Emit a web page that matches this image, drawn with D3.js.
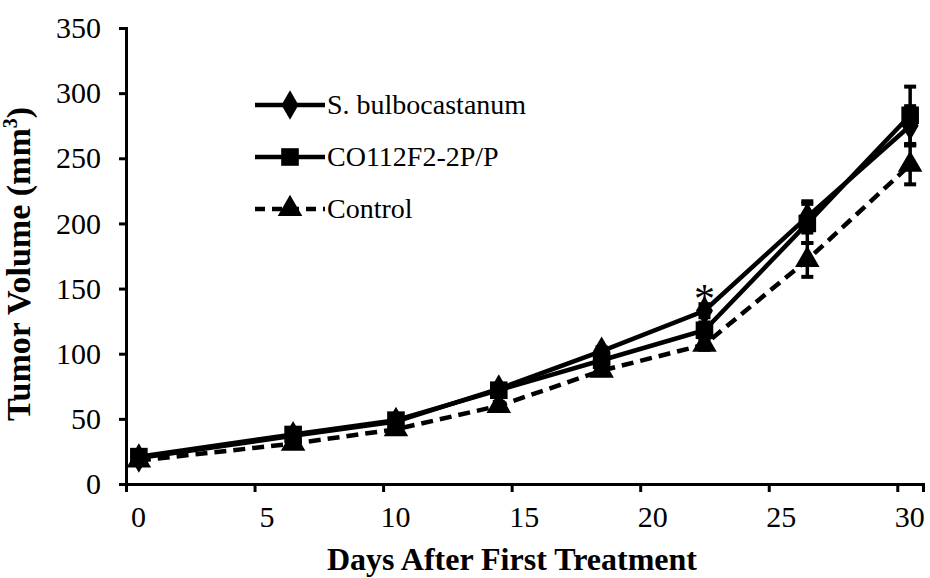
<!DOCTYPE html>
<html>
<head>
<meta charset="utf-8">
<script src="https://cdn.jsdelivr.net/npm/d3@7"></script>
<style>
  body { margin: 0; background: #fff; }
  svg text { font-family: "Liberation Serif", "Times New Roman", serif; fill: #000; }
</style>
</head>
<body>
<div id="chart"></div>
<script>
// data
const days = [0, 6, 10, 14, 18, 22, 26, 30];
const bulbocastanum = [20, 37, 48, 73, 102, 133, 205, 275];
const bulbocastanumErr = [2, 2, 2, 3, 3, 5, 12, 15];
const co112 = [21, 38, 49, 72, 95, 118, 200, 283];
const co112Err = [2, 3, 3, 3, 5, 6, 15, 22];
const control = [18, 31, 42, 60, 87, 107, 172, 245];
const controlErr = [2, 2, 2, 3, 3, 4, 13, 15];
const yTicks = [0, 50, 100, 150, 200, 250, 300, 350];
const xTicks = [0, 5, 10, 15, 20, 25, 30];
const starDay = 22; // significant point

const serif = "'Liberation Serif', 'Times New Roman', serif";

const margin = {top: 28, right: 7, bottom: 94, left: 126},
    width = 930 - margin.left - margin.right,
    height = 578 - margin.top - margin.bottom;

const svg = d3.select("#chart")
    .append("svg")
    .attr("width", 930)
    .attr("height", 578)
    .append("g")
    .attr("transform", `translate(${margin.left}, ${margin.top})`);

const x = d3.scaleLinear().domain([0, 31]).range([0, width]);
const y = d3.scaleLinear().domain([0, 350]).range([height, 0]);
const shift = 0.5; // points sit half a day right of the ticks

// axes
const yAxis = svg.append("g")
    .call(d3.axisLeft(y).tickValues(yTicks).tickSize(7).tickPadding(18));
const xAxis = svg.append("g")
    .attr("transform", `translate(0, ${height})`)
    .call(d3.axisBottom(x).tickValues(xTicks).tickSize(8).tickPadding(14));
[yAxis, xAxis].forEach(function(a) {
  a.attr("font-family", serif);
  a.select(".domain").attr("stroke", "#000").attr("stroke-width", 3);
  a.selectAll(".tick line").attr("stroke", "#000").attr("stroke-width", 3);
  a.selectAll(".tick text").style("font-size", "30px").style("font-family", serif);
});
xAxis.selectAll(".tick text").attr("dx", 12);

// axis titles
svg.append("text")
    .attr("x", 386)
    .attr("y", height + 86)
    .attr("text-anchor", "middle")
    .style("font-family", serif)
    .style("font-size", "32px")
    .style("font-weight", "bold")
    .text("Days After First Treatment");

const yt = svg.append("text")
    .attr("transform", `translate(-96, ${y(175) + 8}) rotate(-90)`)
    .attr("text-anchor", "middle")
    .style("font-family", serif)
    .style("font-size", "34px")
    .style("font-weight", "bold");
yt.append("tspan").text("Tumor Volume (mm");
yt.append("tspan").attr("dy", -13).style("font-size", "20px").text("3");
yt.append("tspan").attr("dy", 13).text(")");

const series = [
  {name: "S. bulbocastanum", values: bulbocastanum, err: bulbocastanumErr, symbol: d3.symbolDiamond, size: 250, dash: null},
  {name: "CO112F2-2P/P", values: co112, err: co112Err, symbol: d3.symbolSquare, size: 310, dash: null},
  {name: "Control", values: control, err: controlErr, symbol: d3.symbolTriangle, size: 260, dash: "12,7"}
];

const line = d3.line()
    .x(function(d) { return x(d.day + shift); })
    .y(function(d) { return y(d.v); });

series.forEach(function(s) {
  const pts = days.map(function(d, i) { return {day: d, v: s.values[i], e: s.err[i]}; });
  const g = svg.append("g");

  // error bars
  g.selectAll("line.err")
      .data(pts)
      .enter()
      .append("line")
      .attr("x1", function(d) { return x(d.day + shift); })
      .attr("x2", function(d) { return x(d.day + shift); })
      .attr("y1", function(d) { return y(d.v - d.e); })
      .attr("y2", function(d) { return y(d.v + d.e); })
      .attr("stroke", "#000")
      .attr("stroke-width", 3.5);
  [-1, 1].forEach(function(sign) {
    g.selectAll(null)
        .data(pts)
        .enter()
        .append("line")
        .attr("x1", function(d) { return x(d.day + shift) - 6; })
        .attr("x2", function(d) { return x(d.day + shift) + 6; })
        .attr("y1", function(d) { return y(d.v + sign * d.e); })
        .attr("y2", function(d) { return y(d.v + sign * d.e); })
        .attr("stroke", "#000")
        .attr("stroke-width", 4);
  });

  g.append("path")
      .datum(pts)
      .attr("d", line)
      .attr("fill", "none")
      .attr("stroke", "#000")
      .attr("stroke-width", 4.5)
      .attr("stroke-dasharray", s.dash);

  g.selectAll("path.mark")
      .data(pts)
      .enter()
      .append("path")
      .attr("d", d3.symbol().type(s.symbol).size(s.size))
      .attr("transform", function(d) { return `translate(${x(d.day + shift)}, ${y(d.v)})`; })
      .attr("fill", "#000");
});

// asterisk at day 22
const si = days.indexOf(starDay);
svg.append("text")
    .attr("x", x(starDay + shift))
    .attr("y", y(bulbocastanum[si] + bulbocastanumErr[si]) + 9)
    .attr("text-anchor", "middle")
    .style("font-family", serif)
    .style("font-size", "42px")
    .text("*");

// legend
const legend = svg.append("g").attr("transform", "translate(129, 77)");
series.forEach(function(s, i) {
  const row = legend.append("g").attr("transform", `translate(0, ${i * 52})`);
  row.append("line")
      .attr("x1", 0).attr("x2", 70)
      .attr("stroke", "#000")
      .attr("stroke-width", 4.5)
      .attr("stroke-dasharray", s.dash ? "10,7" : null);
  row.append("path")
      .attr("d", d3.symbol().type(s.symbol).size(s.size))
      .attr("transform", "translate(35, 0)")
      .attr("fill", "#000");
  row.append("text")
      .attr("x", 72)
      .attr("y", 9)
      .style("font-family", serif)
      .style("font-size", "28px")
      .text(s.name);
});
</script>
</body>
</html>
